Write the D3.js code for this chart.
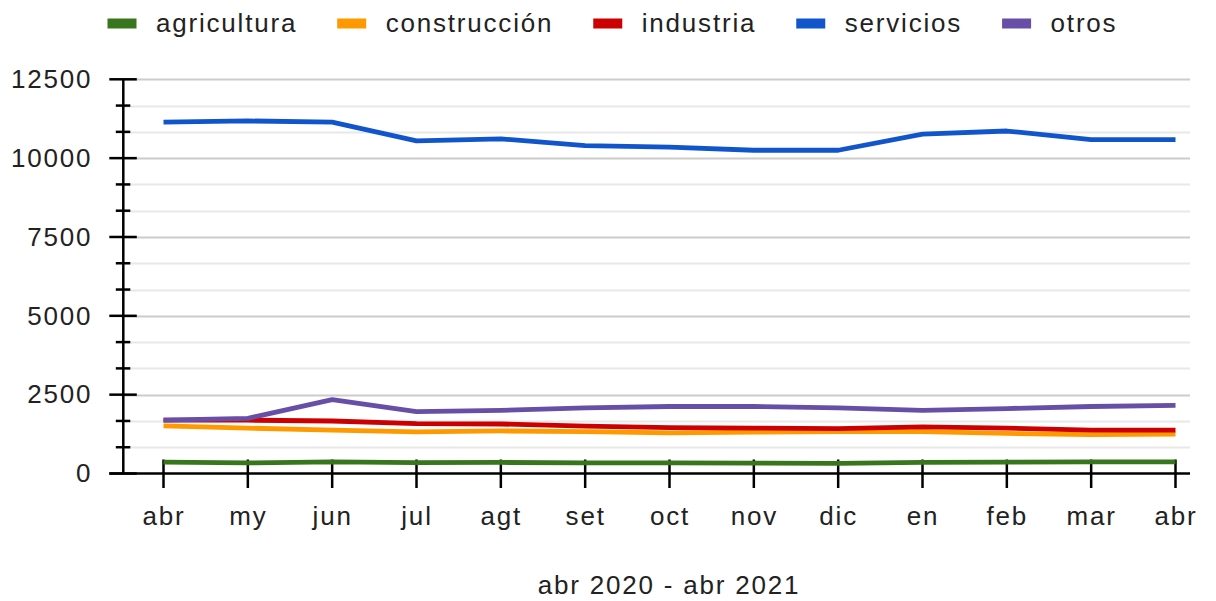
<!DOCTYPE html>
<html>
<head>
<meta charset="utf-8">
<script src="https://cdn.jsdelivr.net/npm/d3@7"></script>
<style>
  body { margin: 0; background: #fff; }
  text { font-family: "Liberation Sans", Arial, sans-serif; fill: #222; }
</style>
</head>
<body>
<svg class="chart"></svg>
<script>
var months = ["abr", "my", "jun", "jul", "agt", "set", "oct", "nov", "dic", "en", "feb", "mar", "abr"];
var seriesNames = ["agricultura", "construcción", "industria", "servicios", "otros"];
var seriesColors = ["#38761d", "#ff9900", "#cc0000", "#1155cc", "#674ea7"];

var agricultura = [360, 335, 370, 345, 350, 335, 340, 330, 320, 350, 360, 370, 370];
var construccion = [1510, 1440, 1375, 1320, 1350, 1330, 1290, 1310, 1330, 1330, 1270, 1230, 1250];
var industria = [1690, 1690, 1665, 1580, 1570, 1500, 1455, 1440, 1420, 1480, 1440, 1375, 1375];
var servicios = [11140, 11180, 11140, 10550, 10610, 10400, 10350, 10250, 10250, 10760, 10860, 10590, 10590];
var otros = [1690, 1750, 2340, 1960, 2000, 2080, 2125, 2125, 2080, 2000, 2060, 2125, 2160];

var yTicks = [0, 2500, 5000, 7500, 10000, 12500];
var xTitle = "abr 2020 - abr 2021";

var series = [agricultura, construccion, industria, servicios, otros];

var width = 1216, height = 601;
var fontSize = "26px", spacing = "1.8px";

var svg = d3.select(".chart")
    .attr("width", width)
    .attr("height", height);

var x = d3.scaleLinear()
    .domain([0, months.length - 1])
    .range([163.5, 1175.5]);

var y = d3.scaleLinear()
    .domain([0, 12500])
    .range([473.5, 79.3]);

var left = 123.3, right = 1190;

// gridlines, minor every 833.33
var minor = d3.range(0, 12501, 2500 / 3).map(function(d) { return Math.round(d * 100) / 100; });
svg.append("g").selectAll("line")
    .data(minor.filter(function(d) { return d > 0; }))
  .enter().append("line")
    .attr("x1", left)
    .attr("x2", right)
    .attr("y1", function(d) { return Math.round(y(d)) + 0.5; })
    .attr("y2", function(d) { return Math.round(y(d)) + 0.5; })
    .attr("stroke", function(d) { return yTicks.indexOf(d) >= 0 ? "#cccccc" : "#e8e8e8"; })
    .attr("stroke-width", 2);

// y axis
var yAxis = svg.append("g")
    .attr("transform", "translate(" + left + ",0)")
    .call(d3.axisLeft(y).tickValues(yTicks).tickFormat(d3.format("d")).tickSize(0).tickPadding(31));
yAxis.select(".domain").remove();
yAxis.selectAll("text")
    .style("font-size", fontSize)
    .style("letter-spacing", spacing)
    .attr("fill", "#222");

svg.append("line")
    .attr("x1", left).attr("x2", left)
    .attr("y1", y(12500)).attr("y2", y(0))
    .attr("stroke", "#000").attr("stroke-width", 2.5);

svg.append("g").selectAll("line")
    .data(minor)
  .enter().append("line")
    .attr("x1", function(d) { return yTicks.indexOf(d) >= 0 ? left - 14 : left - 7.5; })
    .attr("x2", function(d) { return yTicks.indexOf(d) >= 0 ? left + 13.5 : left + 7; })
    .attr("y1", function(d) { return y(d); })
    .attr("y2", function(d) { return y(d); })
    .attr("stroke", "#000")
    .attr("stroke-width", 2.5);

// x axis
var xAxis = svg.append("g")
    .attr("transform", "translate(0," + y(0) + ")")
    .call(d3.axisBottom(x)
      .tickValues(d3.range(months.length))
      .tickFormat(function(i) { return months[i]; })
      .tickSize(0)
      .tickPadding(33));
xAxis.select(".domain").remove();
xAxis.selectAll("text")
    .style("font-size", fontSize)
    .style("letter-spacing", spacing)
    .attr("fill", "#222");

svg.append("line")
    .attr("x1", left - 14).attr("x2", right)
    .attr("y1", y(0)).attr("y2", y(0))
    .attr("stroke", "#000").attr("stroke-width", 2.5);

svg.append("g").selectAll("line")
    .data(d3.range(months.length))
  .enter().append("line")
    .attr("x1", function(d) { return x(d); })
    .attr("x2", function(d) { return x(d); })
    .attr("y1", y(0) - 14)
    .attr("y2", y(0) + 14.5)
    .attr("stroke", "#000")
    .attr("stroke-width", 2.5);

// lines
var line = d3.line()
    .x(function(d, i) { return x(i); })
    .y(function(d) { return y(d); });

svg.append("g").selectAll("path")
    .data(series)
  .enter().append("path")
    .attr("d", line)
    .attr("fill", "none")
    .attr("stroke", function(d, i) { return seriesColors[i]; })
    .attr("stroke-width", 4.8)
    .attr("stroke-linejoin", "round");

// x title
svg.append("text")
    .attr("x", 669)
    .attr("y", 594)
    .attr("text-anchor", "middle")
    .style("font-size", fontSize)
    .style("letter-spacing", spacing)
    .text(xTitle);

// legend
var legend = svg.append("g");
var lx = 107.5;
seriesNames.forEach(function(name, i) {
  legend.append("rect")
      .attr("x", lx)
      .attr("y", 18.5)
      .attr("width", 29)
      .attr("height", 10)
      .attr("fill", seriesColors[i]);
  var t = legend.append("text")
      .attr("x", lx + 48.5)
      .attr("y", 31.5)
      .style("font-size", fontSize)
      .style("letter-spacing", spacing)
      .text(name);
  lx = lx + 48.5 + t.node().getComputedTextLength() + 40;
});
</script>
</body>
</html>
